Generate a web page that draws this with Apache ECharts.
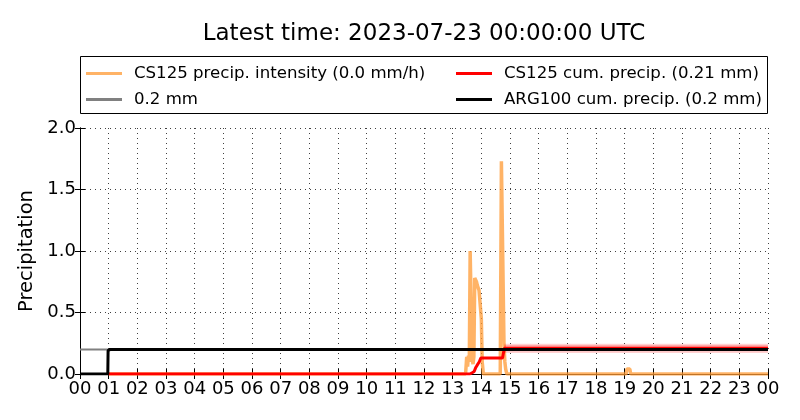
<!DOCTYPE html>
<html><head><meta charset="utf-8">
<script src="https://cdn.jsdelivr.net/npm/echarts@6/dist/echarts.min.js"></script>
<style>html,body{margin:0;padding:0;background:#fff}#c{width:800px;height:420px}</style>
</head><body><div id="c"></div>
<script>
// time in hours since 2023-07-22 00:00 UTC
const intensityT = [1.0, 13.45, 13.49, 13.52, 13.55, 13.58, 13.61, 13.65, 13.68, 13.71, 13.74, 13.77, 13.80, 13.83, 13.86, 13.89, 13.92, 13.96, 14.00, 14.03, 14.07, 14.66, 14.70, 14.76, 14.79, 14.82, 14.85, 14.89, 19.05, 19.08, 19.18, 19.21, 24.0];
const intensityV = [0.0, 0.00, 0.14, 0.06, 0.15, 0.10, 1.00, 1.00, 0.12, 0.08, 0.14, 0.78, 0.78, 0.75, 0.72, 0.70, 0.68, 0.68, 0.45, 0.10, 0.00, 0.00, 1.73, 1.73, 0.25, 0.10, 0.04, 0.00, 0.00, 0.04, 0.04, 0.00, 0.00];

const cs125CumT = [1.0, 13.60, 13.68, 13.75, 13.80, 13.85, 13.93, 13.98, 14.74, 14.80, 24.0];
const cs125CumV = [0.0, 0.00, 0.01, 0.02, 0.05, 0.07, 0.10, 0.13, 0.13, 0.21, 0.21];

// uncertainty band around CS125 cumulative: [start, end, low, high]
const bandOuter = [14.80, 24.0, 0.17, 0.245];
const bandInner = [14.80, 24.0, 0.185, 0.235];

const arg100T = [0.0, 0.97, 0.98, 1.05, 24.0];
const arg100V = [0.0, 0.0, 0.19, 0.2, 0.2];

const refT = [0.0, 24.0];
const refV = [0.2, 0.2];

const titleText = 'Latest time: 2023-07-23 00:00:00 UTC';
const names = ['CS125 precip. intensity (0.0 mm/h)', '0.2 mm', 'CS125 cum. precip. (0.21 mm)', 'ARG100 cum. precip. (0.2 mm)'];

const zip = (t, v) => t.map((x, i) => [x, v[i]]);
const FONT = 'DejaVu Sans';

const chart = echarts.init(document.getElementById('c'), null, {renderer: 'canvas'});
const axisCommon = {
  axisLine: {show: true, lineStyle: {color: '#000', width: 1}},
  axisTick: {show: true, inside: true, length: 5, lineStyle: {color: '#000'}},
};
const bandRender = (params, api) => {
  const p0 = api.coord([api.value(0), api.value(2)]);
  const p1 = api.coord([api.value(1), api.value(3)]);
  return {type: 'rect', shape: {x: p0[0], y: p1[1], width: p1[0] - p0[0], height: p0[1] - p1[1]},
    style: {fill: 'rgba(255,0,0,0.18)'}};
};
const legendText = {fontFamily: FONT, fontSize: 16.6, color: '#000', padding: [0, 0, 0, 7]};
const gridLine = {show: true, lineStyle: {color: 'rgba(0,0,0,0.75)', type: [1, 4], width: 1}};
chart.setOption({
  animation: false,
  backgroundColor: '#fff',
  graphic: [
    {type: 'rect', shape: {x: 80.5, y: 56.5, width: 687, height: 57},
     style: {fill: 'none', stroke: '#000', lineWidth: 1}, z: 10},
    {type: 'text', x: 424, y: 34, style: {text: titleText, font: '23px "DejaVu Sans"', fill: '#000',
     textAlign: 'center', textVerticalAlign: 'middle'}, z: 10}
  ],
  legend: [
    {orient: 'vertical', left: 81, top: 60, itemWidth: 36, itemHeight: 3, itemGap: 9, icon: 'rect',
     data: [names[0], names[1]], textStyle: legendText},
    {orient: 'vertical', left: 451, top: 60, itemWidth: 36, itemHeight: 3, itemGap: 9, icon: 'rect',
     data: [names[2], names[3]], textStyle: legendText}
  ],
  grid: {left: 80, right: 32, top: 128, bottom: 46, containLabel: false},
  xAxis: [
    Object.assign({type: 'value', min: 0, max: 24, interval: 1,
      axisLabel: {formatter: v => String(v % 24).padStart(2, '0'), fontFamily: FONT, fontSize: 18, color: '#000', margin: 6},
      splitLine: gridLine}, axisCommon),
    Object.assign({type: 'value', position: 'top', min: 0, max: 24, interval: 1,
      axisLabel: {show: false}, splitLine: {show: false}}, axisCommon)
  ],
  yAxis: [
    Object.assign({type: 'value', min: 0, max: 2, interval: 0.5, name: 'Precipitation', nameLocation: 'middle', nameGap: 37,
      nameTextStyle: {fontFamily: FONT, fontSize: 19.5, color: '#000'},
      axisLabel: {formatter: v => v.toFixed(1), fontFamily: FONT, fontSize: 18, color: '#000', margin: 4},
      splitLine: gridLine}, axisCommon),
    Object.assign({type: 'value', position: 'right', min: 0, max: 2, interval: 0.5,
      axisLabel: {show: false}, splitLine: {show: false}}, axisCommon)
  ],
  series: [
    {name: names[0], type: 'line', data: zip(intensityT, intensityV), symbol: 'none', z: 2,
     lineStyle: {color: 'rgba(255,153,51,0.75)', width: 3.5}, itemStyle: {color: 'rgba(255,153,51,0.75)'}},
    {name: names[1], type: 'line', data: zip(refT, refV), symbol: 'none', z: 3,
     lineStyle: {color: '#808080', width: 2}, itemStyle: {color: '#808080'}},
    {name: 'band', type: 'custom', renderItem: bandRender, data: [bandOuter, bandInner], z: 4, silent: true,
     encode: {x: [0, 1], y: [2, 3]}},
    {name: names[2], type: 'line', data: zip(cs125CumT, cs125CumV), symbol: 'none', z: 5,
     lineStyle: {color: '#ff0000', width: 3}, itemStyle: {color: '#ff0000'}},
    {name: names[3], type: 'line', data: zip(arg100T, arg100V), symbol: 'none', z: 6,
     lineStyle: {color: '#000000', width: 3}, itemStyle: {color: '#000000'}}
  ]
});
</script></body></html>
